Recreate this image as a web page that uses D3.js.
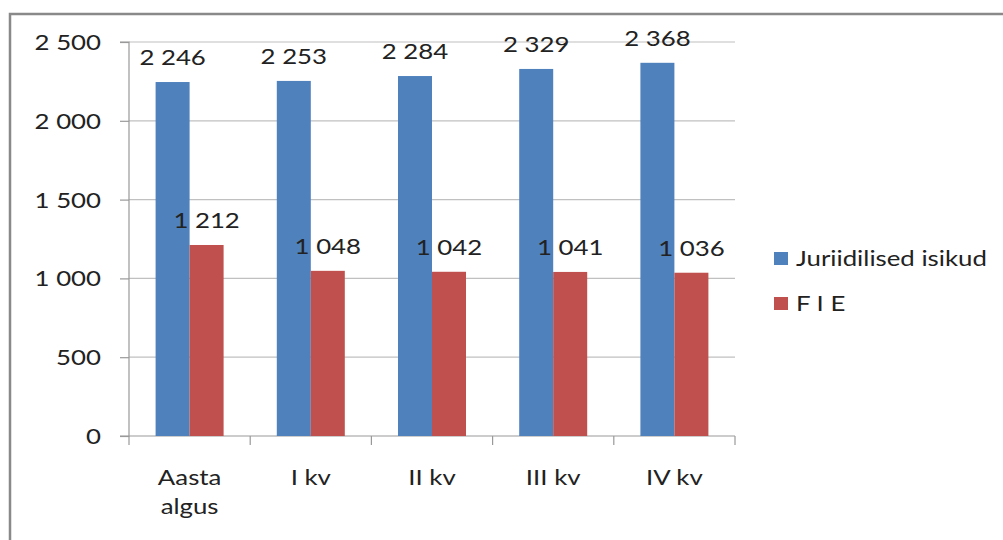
<!DOCTYPE html>
<html><head><meta charset="utf-8">
<script src="https://cdn.jsdelivr.net/npm/d3@7"></script>
<style>body{margin:0;background:#fff}svg{display:block}text{font-family:Lato,"Open Sans",sans-serif;fill:#222}</style>
</head><body><svg id="c" width="1003" height="540"></svg>
<script>
const categories = [["Aasta","algus"],["I kv"],["II kv"],["III kv"],["IV kv"]];
const seriesNames = ["Juriidilised isikud","F I E"];
const juriidilised = [2246,2253,2284,2329,2368];
const fie = [1212,1048,1042,1041,1036];
const yTicks = [0,500,1000,1500,2000,2500];
const colors = ["#4f81bd","#c0504d"];

const FS = 21.5, SX = 1.2;
const svg = d3.select("#c");
const fmt = v => d3.format(",")(v).replace(/,/g," ");
const pL=129, pR=735, pT=42, pB=436;
const y = d3.scaleLinear().domain([0,2500]).range([pB,pT]);
const x = d3.scaleBand().domain(d3.range(categories.length)).range([pL,pR]);
const inner = d3.scaleBand().domain([0,1]).range([0,68]);

// helper: stretched text placed at (px,py)
function label(parent, px, py, txt, anchor){
  return parent.append("text").attr("transform",`translate(${px},${py}) scale(${SX},1)`)
    .attr("text-anchor",anchor||"middle").attr("font-size",FS).text(txt);
}

// outer border
svg.append("path").attr("d","M10,540 L10,14 L1003,14").attr("fill","none").attr("stroke","#898989").attr("stroke-width",2.5);

// gridlines
svg.append("g").selectAll("line").data(yTicks.filter(d=>d>0)).join("line")
  .attr("x1",pL).attr("x2",pR).attr("y1",d=>y(d)).attr("y2",d=>y(d)).attr("stroke","#c0c0c0").attr("stroke-width",1.2);

// y axis
const ya = svg.append("g").attr("transform",`translate(${pL},0)`).call(d3.axisLeft(y).tickValues(yTicks).tickFormat(fmt).tickSize(9));
ya.select(".domain").attr("stroke","#999").attr("stroke-width",1.2).attr("d",`M-9,${pT}H0V${pB}H-9`);
ya.selectAll(".tick line").attr("stroke","#999").attr("stroke-width",1.2);
ya.selectAll(".tick text").attr("font-size",FS).attr("font-family","Lato").attr("fill","#222")
  .attr("x",0).attr("dy",null).attr("transform",`translate(-28,7.5) scale(${SX},1)`);

// x axis
const xa = svg.append("g").attr("transform",`translate(0,${pB})`);
xa.append("line").attr("x1",pL).attr("x2",pR).attr("stroke","#999").attr("stroke-width",1.2);
xa.selectAll(".t").data(d3.range(categories.length+1)).join("line").attr("class","t")
  .attr("x1",i=>pL+i*x.step()).attr("x2",i=>pL+i*x.step()).attr("y1",0).attr("y2",9).attr("stroke","#999").attr("stroke-width",1.2);
const xg = svg.append("g");
categories.forEach((lines,i)=>{
  lines.forEach((ln,j)=>label(xg, x(i)+x.bandwidth()/2, 485+j*29, ln));
});

// bars
[juriidilised,fie].forEach((vals,s)=>{
  const g = svg.append("g");
  const off = (x.bandwidth()-68)/2;
  g.selectAll("rect").data(vals).join("rect")
    .attr("x",(d,i)=>x(i)+off+inner(s)).attr("width",inner.bandwidth())
    .attr("y",d=>y(d)).attr("height",d=>pB-y(d)).attr("fill",colors[s]);
  vals.forEach((d,i)=>label(g, x(i)+off+inner(s)+inner.bandwidth()/2, y(d)-17, fmt(d)));
});

// legend
const lg = svg.append("g");
seriesNames.forEach((n,i)=>{
  lg.append("rect").attr("x",774).attr("y",252+i*45).attr("width",14).attr("height",13).attr("fill",colors[i]);
  label(lg, 796, 266+i*45, n, "start");
});
</script></body></html>
